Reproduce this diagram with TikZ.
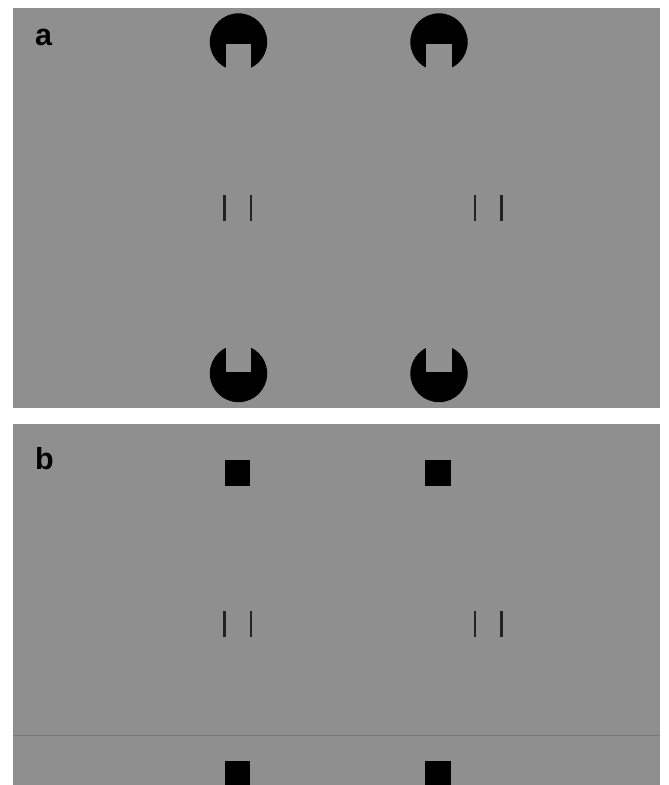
\documentclass[tikz,border=0pt]{standalone}
\usepackage{fontspec}
\setsansfont{Liberation Sans}
\definecolor{panelgray}{HTML}{8F8F8F}
\definecolor{bardark}{HTML}{222222}
\definecolor{seamgray}{HTML}{787878}
\tikzset{panel/.style={fill=panelgray,draw=none},
 blob/.style={fill=black,draw=none},
 bar/.style={draw=bardark,line width=2.1pt},
 seam/.style={draw=seamgray,line width=.8pt},
 letter/.style={font=\sffamily\bfseries\fontsize{26}{30}\selectfont,inner sep=0pt,anchor=base west}}

\begin{document}
\begin{tikzpicture}[x=.03cm,y=-.03cm]

\path[use as bounding box] (0,0) rectangle (668,785);
\fill[white] (0,0) rectangle (668,785);
% panels
\path[panel] (12.7,8.3) rectangle (660,408);
\path[panel] (12.7,423.5) rectangle (660,785);
\node[letter] (la) at (35,45) {a};
\node[letter] (lb) at (35,469) {b};
% notched discs, panel a
\foreach \cx in {238.5,439}{
  \fill[blob] (\cx,42) circle[radius=28.7*.03cm];
  \fill[panelgray] (\cx-12.8,43.8) rectangle (\cx+12.8,72);
  \fill[blob] (\cx,373.5) circle[radius=28.7*.03cm];
  \fill[panelgray] (\cx-12.8,344) rectangle (\cx+12.8,371.5);
}
% square targets, panel b
\foreach \cx in {237.5,438}{
  \fill[blob] (\cx-12.8,460) rectangle (\cx+12.8,486);
  \fill[blob] (\cx-12.8,761) rectangle (\cx+12.8,785);
}
\draw[seam] (12.7,735.7) -- (660,735.7);
% bar pairs
\foreach \bx in {224.5,251,475,501.5}{
  \draw[bar] (\bx,195) -- (\bx,221);
  \draw[bar] (\bx,611) -- (\bx,637);
}

\end{tikzpicture}
\end{document}
